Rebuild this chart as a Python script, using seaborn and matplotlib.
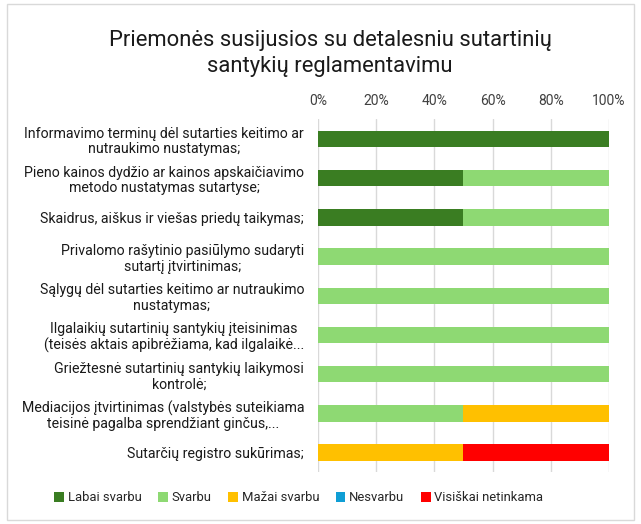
import matplotlib
matplotlib.use("Agg")
import matplotlib.pyplot as plt
import seaborn as sns
import pandas as pd
import numpy as np
from matplotlib.patches import Patch, Rectangle

categories = [
    "Informavimo terminų dėl sutarties keitimo ar\nnutraukimo nustatymas;",
    "Pieno kainos dydžio ar kainos apskaičiavimo\nmetodo nustatymas sutartyse;",
    "Skaidrus, aiškus ir viešas priedų taikymas;",
    "Privalomo rašytinio pasiūlymo sudaryti\nsutartį įtvirtinimas;",
    "Sąlygų dėl sutarties keitimo ar nutraukimo\nnustatymas;",
    "Ilgalaikių sutartinių santykių įteisinimas\n(teisės aktais apibrėžiama, kad ilgalaikė...",
    "Griežtesnė sutartinių santykių laikymosi\nkontrolė;",
    "Mediacijos įtvirtinimas (valstybės suteikiama\nteisinė pagalba sprendžiant ginčus,...",
    "Sutarčių registro sukūrimas;",
]
series_names = ["Labai svarbu", "Svarbu", "Mažai svarbu", "Nesvarbu", "Visiškai netinkama"]
labai_svarbu = [100, 50, 50, 0, 0, 0, 0, 0, 0]
svarbu = [0, 50, 50, 100, 100, 100, 100, 50, 0]
mazai_svarbu = [0, 0, 0, 0, 0, 0, 0, 50, 50]
nesvarbu = [0, 0, 0, 0, 0, 0, 0, 0, 0]
visiskai_netinkama = [0, 0, 0, 0, 0, 0, 0, 0, 50]
colors = ["#3A7D22", "#8ED973", "#FFC000", "#0F9ED5", "#FF0000"]
title = "Priemonės susijusios su detalesniu sutartinių\nsantykių reglamentavimu"
xticks = [0, 20, 40, 60, 80, 100]
xticklabels = ["0%", "20%", "40%", "60%", "80%", "100%"]

sns.set_theme(style="white")
plt.rcParams["font.family"] = ["Roboto", "DejaVu Sans"]

vals = [labai_svarbu, svarbu, mazai_svarbu, nesvarbu, visiskai_netinkama]
cum = np.cumsum(np.array(vals), axis=0)

fig = plt.figure(figsize=(6.41, 5.24), dpi=100)
ax = fig.add_axes([0.496, 0.099, 0.454, 0.673])

for i in range(len(series_names) - 1, -1, -1):
    d = pd.DataFrame({"cat": categories, "val": cum[i]})
    sns.barplot(data=d, y="cat", x="val", color=colors[i], orient="h",
                width=0.42, ax=ax, saturation=1, zorder=3, edgecolor="none")

ax.set_xlim(0, 100)
ax.set_xticks(xticks)
ax.set_xticklabels(xticklabels)
ax.xaxis.tick_top()
ax.tick_params(axis="x", length=0, pad=8, labelsize=10, colors="#404040")
ax.tick_params(axis="y", length=0, pad=10, labelsize=10.2, colors="#1a1a1a")
for lab in ax.get_yticklabels():
    lab.set_multialignment("center")
    lab.set_linespacing(1.15)
ax.set_xlabel("")
ax.set_ylabel("")
ax.grid(axis="x", color="#D9D9D9", linewidth=1, zorder=0)
ax.set_axisbelow(True)
for s in ax.spines.values():
    s.set_visible(False)

fig.text(0.515, 0.898, title, ha="center", va="center", fontsize=15.8, color="#1a1a1a",
         linespacing=1.3)

handles = [Patch(facecolor=c, edgecolor="none") for c in colors]
fig.legend(handles, series_names, loc="center", bbox_to_anchor=(0.466, 0.05), ncol=5,
           frameon=False, fontsize=9.4, handlelength=0.75, handleheight=0.75,
           handletextpad=0.3, columnspacing=1.25)

fig.patches.append(Rectangle((0.011, 0.008), 0.978, 0.984, transform=fig.transFigure,
                             fill=False, edgecolor="#D9D9D9", linewidth=1))

fig.savefig("out.png", dpi=100)
